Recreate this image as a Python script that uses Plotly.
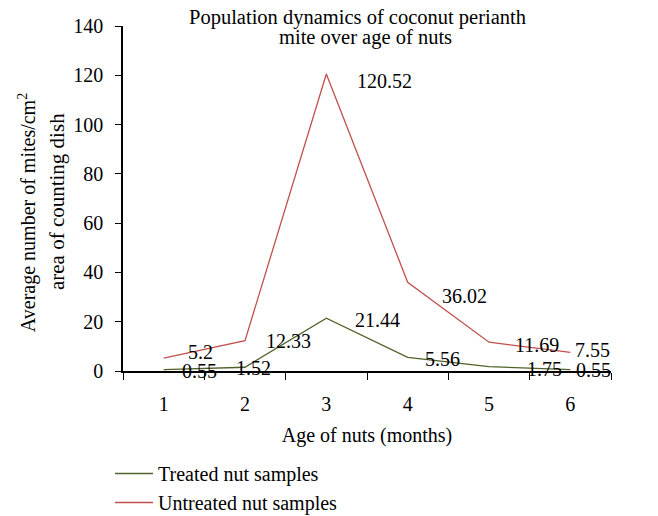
import plotly.graph_objects as go

ages = [1, 2, 3, 4, 5, 6]
treated = [0.55, 1.52, 21.44, 5.56, 1.75, 0.55]
untreated = [5.2, 12.33, 120.52, 36.02, 11.69, 7.55]
y_ticks = [0, 20, 40, 60, 80, 100, 120, 140]
x_bounds = [0.5, 1.5, 2.5, 3.5, 4.5, 5.5, 6.5]

# label offsets (pixels) as placed in the original chart
treated_shift = [(36, -1), (8, -1), (51, -2), (35, -2), (55, -2), (23, 0)]
untreated_shift = [(37, 6), (43, 0), (58, -7), (57, -14), (48, -3), (22, 2)]

FONT = "Liberation Serif"
GREEN = "#4F6228"
RED = "#C0504D"
FS = 20

fig = go.Figure()
fig.add_trace(go.Scatter(x=ages, y=treated, mode="lines", name="Treated nut samples",
                         line=dict(color=GREEN, width=1.3)))
fig.add_trace(go.Scatter(x=ages, y=untreated, mode="lines", name="Untreated nut samples",
                         line=dict(color=RED, width=1.3)))

annotations = []
for xs, ys, shifts in ((ages, treated, treated_shift), (ages, untreated, untreated_shift)):
    for xv, yv, (dx, dy) in zip(xs, ys, shifts):
        annotations.append(dict(x=xv, y=yv, xref="x", yref="y", text=f"{yv:g}",
                                showarrow=False, xshift=dx, yshift=dy,
                                xanchor="center", yanchor="middle",
                                font=dict(family=FONT, size=FS, color="black")))

# y axis title (two lines)
annotations.append(dict(x=-0.197, y=0.46, xref="paper", yref="paper",
                        text="Average number of mites/cm<sup>2</sup>",
                        textangle=-90, showarrow=False, xanchor="center", yanchor="middle",
                        font=dict(family=FONT, size=FS, color="black")))
annotations.append(dict(x=-0.135, y=0.49, xref="paper", yref="paper",
                        text="area of counting dish",
                        textangle=-90, showarrow=False, xanchor="center", yanchor="middle",
                        font=dict(family=FONT, size=21, color="black")))
# chart title (two lines)
annotations.append(dict(x=0.48, y=1.024, xref="paper", yref="paper",
                        text="Population dynamics of coconut perianth",
                        showarrow=False, xanchor="center", yanchor="middle",
                        font=dict(family=FONT, size=20.5, color="black")))
annotations.append(dict(x=0.497, y=0.966, xref="paper", yref="paper",
                        text="mite over age of nuts",
                        showarrow=False, xanchor="center", yanchor="middle",
                        font=dict(family=FONT, size=20.5, color="black")))

fig.update_layout(
    width=650, height=508,
    margin=dict(l=115, r=47, t=18, b=145, autoexpand=False),
    paper_bgcolor="white", plot_bgcolor="white",
    font=dict(family=FONT, size=FS, color="black"),
    showlegend=True,
    legend=dict(xref="container", yref="container", x=0.157, y=0.122,
                xanchor="left", yanchor="top", itemwidth=38,
                font=dict(family=FONT, size=FS, color="black"),
                bgcolor="rgba(0,0,0,0)", tracegroupgap=0),
    annotations=annotations,
    xaxis=dict(range=[0.5, 6.5], tickvals=ages, ticks="", ticklabelstandoff=14,
               minor=dict(tickvals=x_bounds, ticks="outside", ticklen=7, tickcolor="black",
                          showgrid=False),
               showline=True, linecolor="black", linewidth=1.5,
               showgrid=False, zeroline=False,
               title=dict(text="Age of nuts (months)", standoff=14,
                          font=dict(family=FONT, size=FS))),
    yaxis=dict(range=[0, 140], tickvals=y_ticks, ticks="outside", ticklen=6,
               tickcolor="black", showline=True, linecolor="black", linewidth=1.5,
               showgrid=False, zeroline=False, ticklabelstandoff=8),
)

fig.write_html("out.html")
